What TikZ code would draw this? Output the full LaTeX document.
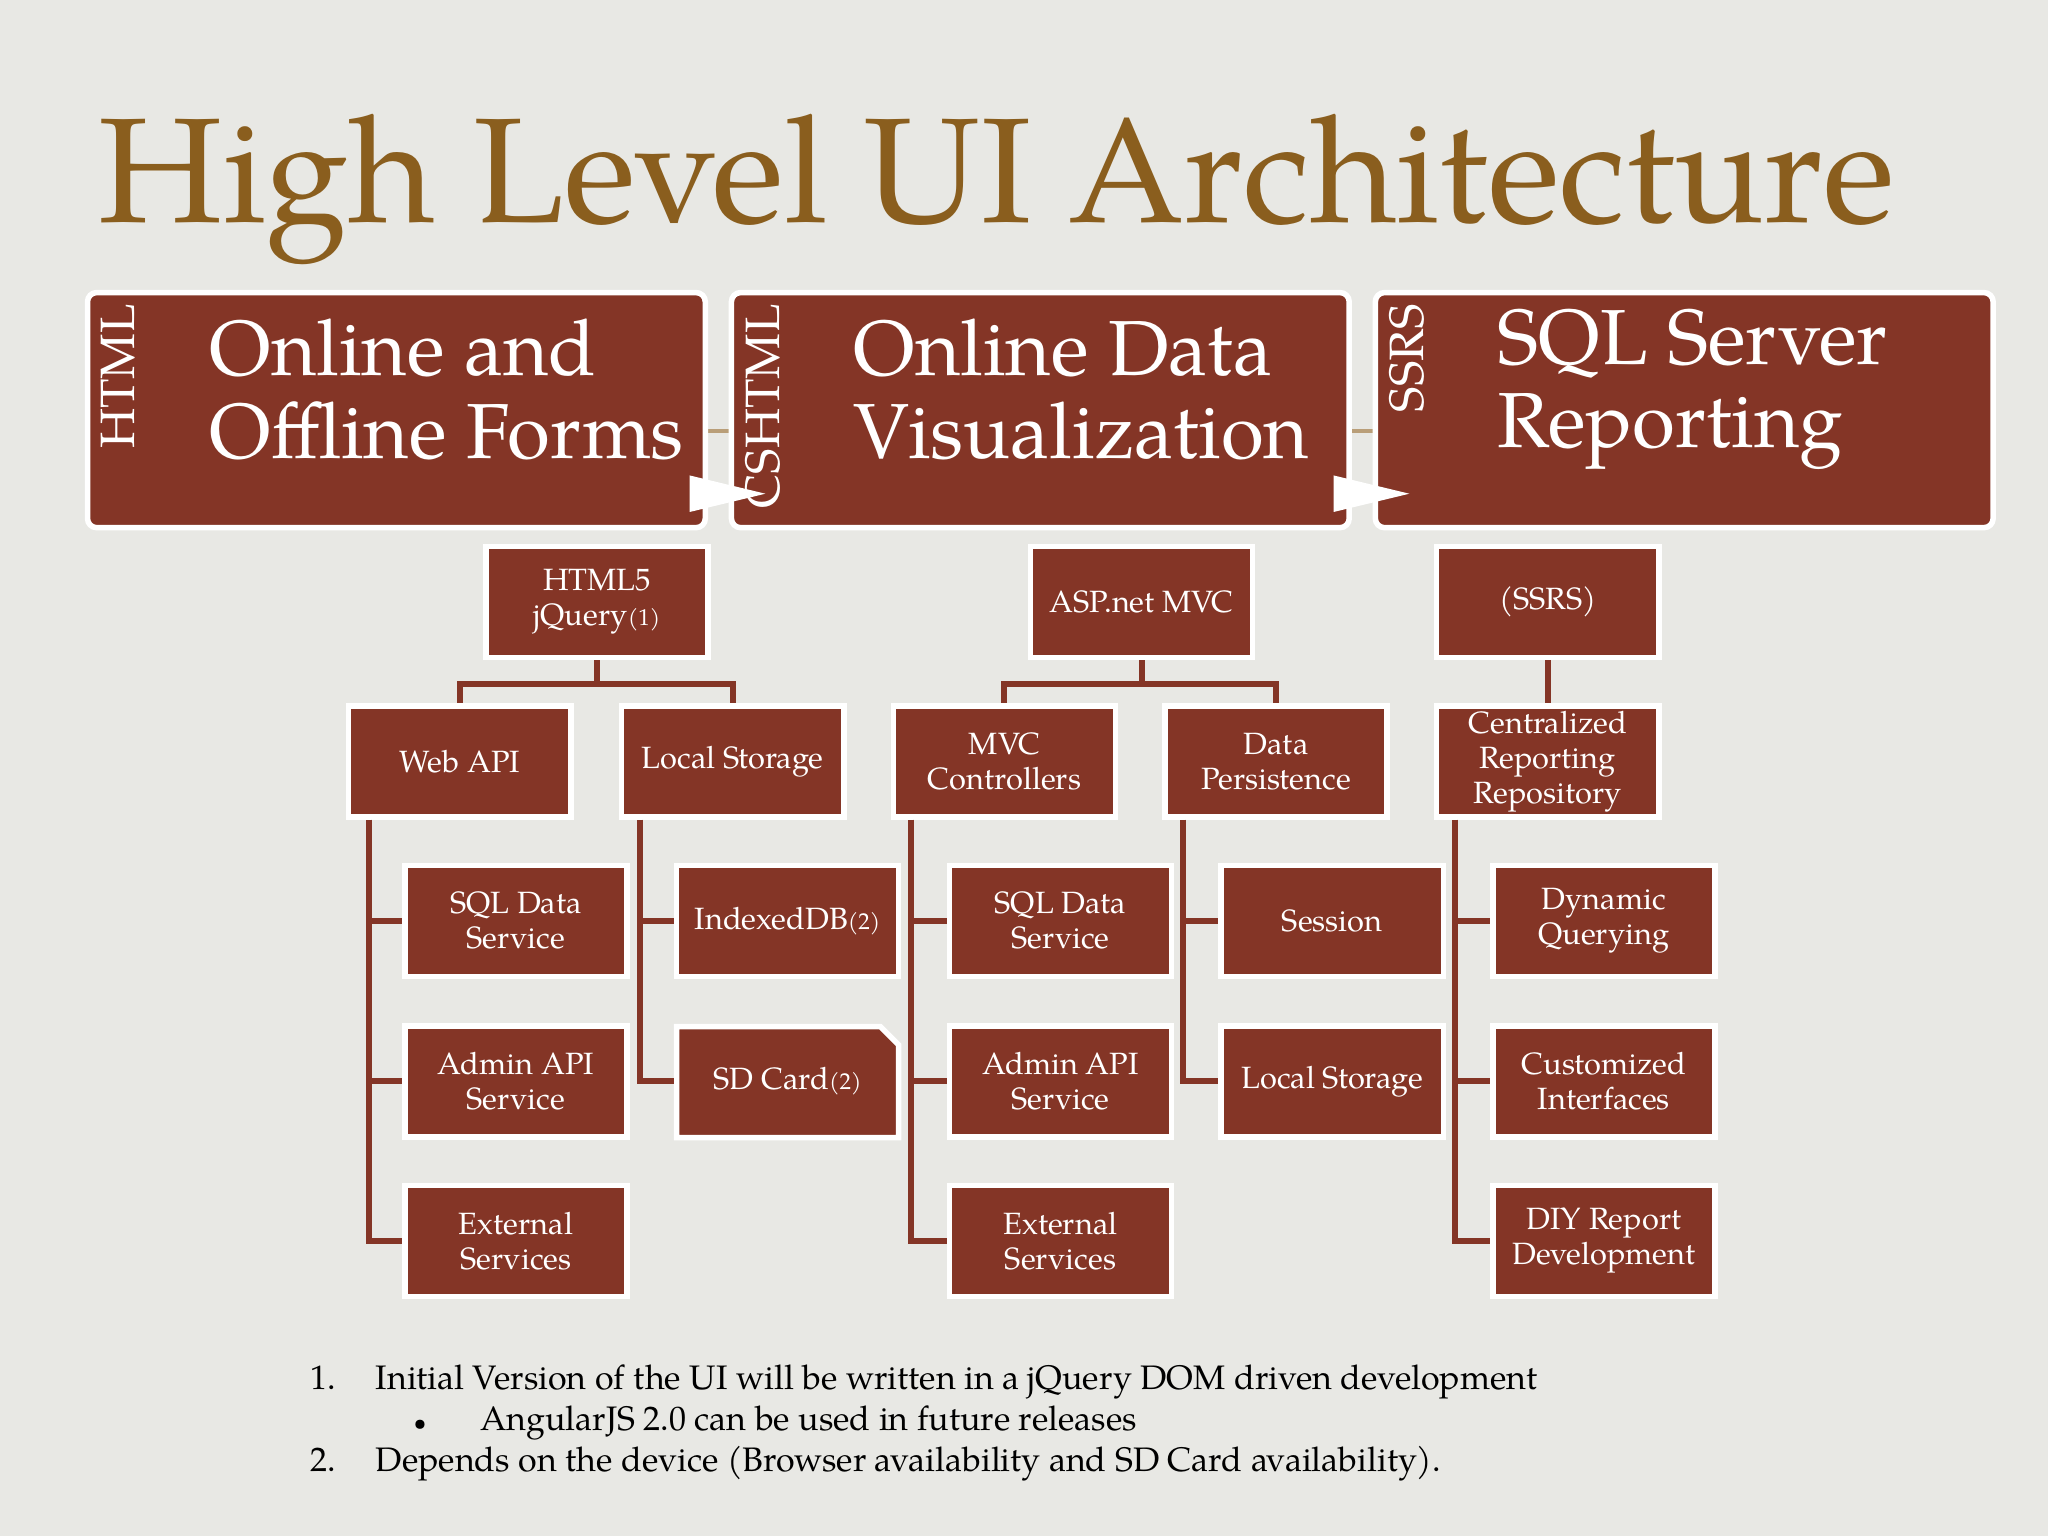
\documentclass[tikz,border=0pt]{standalone}
\usepackage{fontspec}
\setmainfont{TeX Gyre Pagella}
\definecolor{brk}{HTML}{843526}
\definecolor{ttl}{HTML}{8A5E1E}
\definecolor{bg}{HTML}{E8E8E4}
\newcommand{\subn}[1]{{\fontsize{5}{5}\selectfont(#1)}}
\begin{document}
\begin{tikzpicture}[x=0.01cm,y=-0.01cm,
 big/.style={draw=white,line width=1.2pt,fill=brk,rounded corners=2pt},
 sb/.style={draw=white,line width=1.2pt,fill=brk,minimum width=1.7cm,minimum height=0.85cm,text=white,align=center,font=\fontsize{6.7}{7.6}\selectfont,inner sep=1pt},
 cn/.style={brk,line width=1.3pt}]
\fill[bg] (0,0) rectangle (1568,1176);
\useasboundingbox (0,0) rectangle (1568,1176);
\node[anchor=west,text=ttl,font=\fontsize{32.5}{33}\selectfont,inner sep=0pt] (title) at (75,145) {High Level UI Architecture};
\draw[ttl!60,line width=1pt] (540,330) -- (560,330) (1033,330) -- (1053,330);
\foreach \x/\v/\a/\b [count=\i] in {67/HTML/Online and/Offline Forms,560/CSHTML/Online Data/Visualization,1053/SSRS/SQL Server/Reporting}{
 \draw[big] (\x,224) rectangle ++(473,180);
 \node[rotate=90,text=white,anchor=north east,font=\fontsize{10.5}{11}\selectfont,inner sep=0pt] (v\i) at (\x+10,232) {\v};
 \node[anchor=west,text=white,font=\fontsize{17}{18}\selectfont,align=left,inner sep=0pt] (t\i) at (\x+93,298) {\a\\\b};
}
\foreach \x in {528,1021}{\fill[white] (\x,364) -- (\x+58,378) -- (\x,392) -- cycle;}
\node[sb] (h) at (457,461) {HTML5\\jQuery\subn{1}};
\node[sb] (a) at (874,461) {ASP.net MVC};
\node[sb] (s) at (1185,461) {(SSRS)};
\node[sb] (wa) at (352,583) {Web API};
\node[sb] (ls) at (561,583) {Local Storage};
\node[sb] (mc) at (769,583) {MVC\\Controllers};
\node[sb] (dp) at (977,583) {Data\\Persistence};
\node[sb] (cr) at (1185,583) {Centralized\\Reporting\\Repository};
\node[sb] (a1) at (395,705) {SQL Data\\Service};
\node[sb] (a2) at (395,828) {Admin API\\Service};
\node[sb] (a3) at (395,950) {External\\Services};
\node[sb] (b1) at (603,705) {IndexedDB\subn{2}};
\draw[draw=white,line width=1.2pt,fill=brk] (518,786) -- (674,786) -- (688,800) -- (688,871) -- (518,871) -- cycle;
\node[sb,draw=none,fill=none] (b2) at (603,828) {SD Card\subn{2}};
\node[sb] (c1) at (812,705) {SQL Data\\Service};
\node[sb] (c2) at (812,828) {Admin API\\Service};
\node[sb] (c3) at (812,950) {External\\Services};
\node[sb] (d1) at (1020,705) {Session};
\node[sb] (d2) at (1020,828) {Local Storage};
\node[sb] (e1) at (1228,705) {Dynamic\\Querying};
\node[sb] (e2) at (1228,828) {Customized\\Interfaces};
\node[sb] (e3) at (1228,950) {DIY Report\\Development};
\draw[cn] (h.south) -- ++(0,18) -| (wa.north); \draw[cn] (h.south) ++(0,18) -| (ls.north);
\draw[cn] (a.south) -- ++(0,18) -| (mc.north); \draw[cn] (a.south) ++(0,18) -| (dp.north);
\draw[cn] (s.south) -- (cr.north);
\draw[cn] (wa.south west) ++(18,0) |- (a3.west); \draw[cn] (wa.south west)++(18,0) |- (a1.west); \draw[cn] (wa.south west)++(18,0) |- (a2.west);
\draw[cn] (ls.south west) ++(16,0) |- (b2.west); \draw[cn] (ls.south west)++(16,0) |- (b1.west);
\draw[cn] (mc.south west) ++(16,0) |- (c3.west); \draw[cn] (mc.south west)++(16,0) |- (c1.west); \draw[cn] (mc.south west)++(16,0) |- (c2.west);
\draw[cn] (dp.south west) ++(16,0) |- (d2.west); \draw[cn] (dp.south west)++(16,0) |- (d1.west);
\draw[cn] (cr.south west) ++(16,0) |- (e3.west); \draw[cn] (cr.south west)++(16,0) |- (e1.west); \draw[cn] (cr.south west)++(16,0) |- (e2.west);
\begin{scope}[every node/.style={anchor=base west,font=\fontsize{7.4}{8}\selectfont,inner sep=0pt}]
\node (n1) at (237,1064) {1.}; \node (f1) at (287,1064) {Initial Version of the UI will be written in a jQuery DOM driven development};
\node (bl) at (316,1095) {\fontsize{5}{5}\selectfont•}; \node (f2) at (367,1095) {AngularJS 2.0 can be used in future releases};
\node (n2) at (237,1127) {2.}; \node (f3) at (287,1127) {Depends on the device (Browser availability and SD Card availability).};
\end{scope}
\end{tikzpicture}
\end{document}
